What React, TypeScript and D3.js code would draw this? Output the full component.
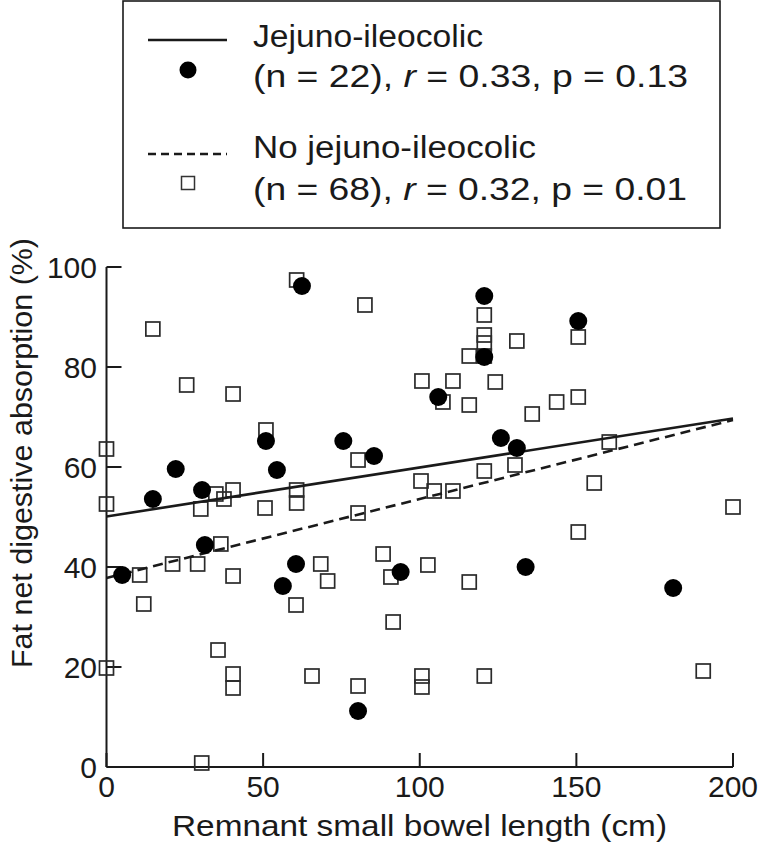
import React from "react";
import * as d3 from "d3";

// Jejuno-ileocolic group (filled circles)
const jejX = [5, 14.8, 22.1, 30.5, 31.4, 50.9, 54.4, 56.3, 60.5, 62.4, 75.6, 80.3, 85.4, 93.9, 105.9, 120.6, 120.6, 125.9, 131.0, 133.8, 150.6, 180.9];
const jejY = [38.4, 53.6, 59.6, 55.4, 44.4, 65.2, 59.4, 36.2, 40.6, 96.2, 65.2, 11.2, 62.2, 39.0, 74.0, 94.2, 82.0, 65.8, 63.8, 40.0, 89.2, 35.8];

// No jejuno-ileocolic group (open squares)
const noX = [0, 0, 0, 10.6, 11.9, 14.8, 21.1, 25.6, 29.1, 30.1, 30.4, 34.9, 35.6, 36.5, 37.5, 40.4, 40.4, 40.4, 40.4, 40.4, 50.6, 50.9, 60.5, 60.7, 60.7, 60.7, 65.6, 68.4, 70.6, 80.3, 80.3, 80.3, 82.5, 88.3, 90.8, 91.5, 100.4, 100.7, 100.7, 100.7, 102.6, 104.6, 107.4, 110.6, 110.6, 115.8, 115.8, 115.8, 120.6, 120.6, 120.6, 120.6, 120.6, 120.6, 124.1, 130.4, 131.0, 135.9, 143.7, 150.6, 150.6, 150.6, 155.7, 160.5, 190.5, 200];
const noY = [63.6, 52.6, 19.8, 38.4, 32.6, 87.6, 40.6, 76.4, 40.6, 51.6, 0.8, 54.6, 23.4, 44.6, 53.6, 74.6, 55.4, 38.2, 18.6, 15.8, 51.8, 67.4, 32.4, 97.4, 55.4, 52.8, 18.2, 40.6, 37.2, 61.4, 50.8, 16.2, 92.4, 42.6, 38.0, 29.0, 57.2, 77.2, 18.2, 16.0, 40.4, 55.2, 73.0, 77.2, 55.2, 82.2, 72.4, 37.0, 90.4, 86.4, 84.8, 82.2, 59.2, 18.2, 77.0, 60.4, 85.2, 70.6, 73.0, 86.0, 74.0, 47.0, 56.8, 65.0, 19.2, 52.0];

// Regression lines (value at x = 0 and x = 200)
const lineXs = [0, 200];
const jejLine = [50.1, 69.7];
const noLine = [37.8, 69.4];

const xTicks = [0, 50, 100, 150, 200];
const yTicks = [0, 20, 40, 60, 80, 100];

const legendLabels = [
  "Jejuno-ileocolic",
  "No jejuno-ileocolic",
];

const FONT = "'Liberation Sans', Arial, sans-serif";
const INK = "#1a1a1a";

export default function App() {
  const x = d3.scaleLinear().domain([0, 200]).range([106.5, 733]);
  const y = d3.scaleLinear().domain([0, 100]).range([767, 267]);
  const line = d3
    .line<[number, number]>()
    .x((d) => x(d[0]))
    .y((d) => y(d[1]));
  const jejPts = lineXs.map((v, i) => [v, jejLine[i]] as [number, number]);
  const noPts = lineXs.map((v, i) => [v, noLine[i]] as [number, number]);
  const sq = 14;

  return (
    <svg
      width={758}
      height={853}
      style={{ position: "absolute", left: 0, top: 0, background: "#fff" }}
      fontFamily={FONT}
    >
      <rect x={0} y={0} width={758} height={853} fill="#fff" />
      {/* Legend */}
      <rect x={123} y={1} width={597} height={227} fill="none" stroke={INK} strokeWidth={1.6} />
      <line x1={148} x2={227} y1={40} y2={40} stroke={INK} strokeWidth={2.5} />
      <circle cx={188} cy={70} r={8.5} fill="#000" />
      <line x1={148} x2={227} y1={154} y2={154} stroke={INK} strokeWidth={2.5} strokeDasharray="8,5" />
      <rect x={181.5} y={176.5} width={13} height={13} fill="none" stroke="#333" strokeWidth={1.5} />
      <g fontSize={31} fill={INK}>
        <text x={253} y={47} textLength={230} lengthAdjust="spacingAndGlyphs">{legendLabels[0]}</text>
        <text x={253} y={87} textLength={435} lengthAdjust="spacingAndGlyphs">
          (n = 22), <tspan fontStyle="italic">r</tspan> = 0.33, p = 0.13
        </text>
        <text x={253} y={158} textLength={283} lengthAdjust="spacingAndGlyphs">{legendLabels[1]}</text>
        <text x={253} y={200} textLength={434} lengthAdjust="spacingAndGlyphs">
          (n = 68), <tspan fontStyle="italic">r</tspan> = 0.32, p = 0.01
        </text>
      </g>

      {/* Axes */}
      <g stroke={INK} strokeWidth={2} fill="none">
        <line x1={x(0)} x2={x(0)} y1={y(100)} y2={y(0)} />
        <line x1={x(0)} x2={x(200)} y1={y(0)} y2={y(0)} />
        {yTicks.map((t) => (
          <line key={"yt" + t} x1={x(0)} x2={x(0) + 15} y1={y(t)} y2={y(t)} />
        ))}
        {xTicks.map((t) => (
          <line key={"xt" + t} x1={x(t)} x2={x(t)} y1={y(0)} y2={y(0) - 14} />
        ))}
      </g>
      <g fontSize={30} fill={INK}>
        {yTicks.map((t) => (
          <text key={"yl" + t} x={97} y={y(t)} dy="0.36em" textAnchor="end">
            {t}
          </text>
        ))}
        {xTicks.map((t) => (
          <text key={"xl" + t} x={x(t)} y={797} textAnchor="middle">
            {t}
          </text>
        ))}
        <text x={419.5} y={836} textAnchor="middle" textLength={495} lengthAdjust="spacingAndGlyphs">
          Remnant small bowel length (cm)
        </text>
        <text
          transform={`translate(32, 453) rotate(-90)`}
          textAnchor="middle"
          textLength={430}
          lengthAdjust="spacingAndGlyphs"
        >
          Fat net digestive absorption (%)
        </text>
      </g>

      {/* Open squares */}
      <g fill="none" stroke="#2a2a2a" strokeWidth={1.7}>
        {noX.map((v, i) => (
          <rect key={"s" + i} x={x(v) - sq / 2} y={y(noY[i]) - sq / 2} width={sq} height={sq} />
        ))}
      </g>

      {/* Regression lines */}
      <path d={line(noPts) || ""} fill="none" stroke={INK} strokeWidth={2.6} strokeDasharray="10,6" />
      <path d={line(jejPts) || ""} fill="none" stroke={INK} strokeWidth={2.6} />

      {/* Filled circles */}
      <g fill="#000">
        {jejX.map((v, i) => (
          <circle key={"c" + i} cx={x(v)} cy={y(jejY[i])} r={9} />
        ))}
      </g>
    </svg>
  );
}
